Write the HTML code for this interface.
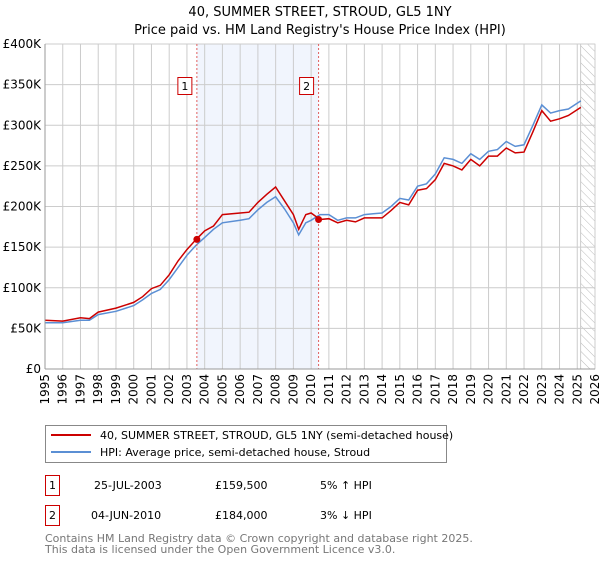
<!DOCTYPE html>
<html><head><meta charset="utf-8"><style>
body{margin:0;background:#fff;font-family:"Liberation Sans","DejaVu Sans",sans-serif}
svg text{font-family:"DejaVu Sans","Liberation Sans",sans-serif}
</style></head><body>
<svg id="chart" width="600" height="560" viewBox="0 0 600 560" xmlns="http://www.w3.org/2000/svg">
<defs><pattern id="hatch" width="6" height="6" patternUnits="userSpaceOnUse" patternTransform="rotate(-45)"><line x1="0" y1="0" x2="0" y2="6" stroke="#bbb" stroke-width="1"/></pattern></defs>
<text x="320" y="16" font-size="13" text-anchor="middle">40, SUMMER STREET, STROUD, GL5 1NY</text>
<text x="320" y="34" font-size="13" text-anchor="middle">Price paid vs. HM Land Registry's House Price Index (HPI)</text>
<g id="grid"></g>
<g id="marks"></g>
<g id="axes"></g>
<g>
<rect x="45.5" y="425.5" width="401" height="37" fill="#fff" stroke="#888"/>
<line x1="51" y1="435" x2="91" y2="435" stroke="#cc0000" stroke-width="2"/>
<text x="100" y="439" font-size="11">40, SUMMER STREET, STROUD, GL5 1NY (semi-detached house)</text>
<line x1="51" y1="452" x2="91" y2="452" stroke="#5b8fd4" stroke-width="2"/>
<text x="100" y="456" font-size="11">HPI: Average price, semi-detached house, Stroud</text>
</g>
<g font-size="11">
<rect x="45.5" y="475.5" width="14" height="20" fill="none" stroke="#cc0000"/>
<text x="52.5" y="489" text-anchor="middle">1</text>
<text x="94" y="489">25-JUL-2003</text><text x="215" y="489">£159,500</text><text x="320" y="489">5% ↑ HPI</text>
<rect x="45.5" y="505.5" width="14" height="20" fill="none" stroke="#cc0000"/>
<text x="52.5" y="519" text-anchor="middle">2</text>
<text x="91" y="519">04-JUN-2010</text><text x="215" y="519">£184,000</text><text x="320" y="519">3% ↓ HPI</text>
</g>
<text x="45" y="542" font-size="11" fill="#777">Contains HM Land Registry data © Crown copyright and database right 2025.</text>
<text x="45" y="553" font-size="11" fill="#777">This data is licensed under the Open Government Licence v3.0.</text>
</svg>
<script>
const hpiYears=[1995,1996,1997,1997.5,1998,1999,2000,2000.5,2001,2001.5,2002,2002.5,2003,2003.5,2004,2004.5,2005,2006,2006.5,2007,2007.5,2008,2008.5,2009,2009.3,2009.7,2010,2010.5,2011,2011.5,2012,2012.5,2013,2013.5,2014,2014.5,2015,2015.5,2016,2016.5,2017,2017.5,2018,2018.5,2019,2019.5,2020,2020.5,2021,2021.5,2022,2022.5,2023,2023.5,2024,2024.5,2025.2];
const hpiValues=[57,57,60,60,67,71,78,85,93,98,110,125,140,152,162,172,180,183,185,196,205,212,197,180,165,180,183,190,190,183,186,186,190,191,192,200,210,208,225,228,240,260,258,253,265,258,268,270,280,274,276,300,325,315,318,320,330];
const priceValues=[60,59,63,62,70,75,82,89,99,103,116,133,147,159,170,176,190,192,193,205,215,224,207,190,172,190,192,184,185,180,183,181,186,186,186,195,205,202,220,222,233,253,250,245,258,250,262,262,272,266,267,292,318,305,308,312,322];
const saleDates=[2003.56,2010.42];
const salePrices=[159.5,184];
const saleLabels=["1","2"];
const yTicks=[0,50,100,150,200,250,300,350,400];
const yTickLabels=["£0","£50K","£100K","£150K","£200K","£250K","£300K","£350K","£400K"];
const xTicks=[1995,1996,1997,1998,1999,2000,2001,2002,2003,2004,2005,2006,2007,2008,2009,2010,2011,2012,2013,2014,2015,2016,2017,2018,2019,2020,2021,2022,2023,2024,2025,2026];

const NS="http://www.w3.org/2000/svg";
const X0=45,X1=595,Y0=369,Y1=44;
const xs=v=>X0+(v-1995)/(2026-1995)*(X1-X0);
const ys=v=>Y0-(v/400)*(Y0-Y1);
function mk(tag,attrs,parent){const e=document.createElementNS(NS,tag);for(const k in attrs)e.setAttribute(k,attrs[k]);parent.appendChild(e);return e;}
const grid=document.getElementById('grid'),marks=document.getElementById('marks'),axes=document.getElementById('axes');
const sh=mk('rect',{x:xs(saleDates[0]),y:Y1,width:xs(saleDates[1])-xs(saleDates[0]),height:Y0-Y1,fill:'#eef3fc',opacity:0.8},grid);


const ht=mk('rect',{x:xs(2025.2),y:Y1,width:X1-xs(2025.2),height:Y0-Y1,fill:'url(#hatch)',stroke:'#999','stroke-width':0.5},grid);


yTicks.forEach((t,i)=>{
  mk('line',{x1:X0,x2:X1,y1:ys(t),y2:ys(t),stroke:'#ccc','stroke-width':1},grid);
  const tx=mk('text',{x:X0-4,y:ys(t)+4,'font-size':12,'text-anchor':'end'},axes);
  tx.textContent=yTickLabels[i];
  
  
});
xTicks.forEach(t=>{
  mk('line',{x1:xs(t),x2:xs(t),y1:Y1,y2:Y0,stroke:'#ccc','stroke-width':1},grid);
  const tx=mk('text',{x:0,y:0,'font-size':12,'text-anchor':'end',transform:`translate(${xs(t)+4},${Y0+5}) rotate(-90)`},axes);
  tx.textContent=t;
  
  
});
mk('line',{x1:X0,x2:X1,y1:Y0,y2:Y0,stroke:'#999'},axes);
mk('line',{x1:X0,x2:X0,y1:Y1,y2:Y0,stroke:'#999'},axes);
function line(vals,color,name){
  const d=vals.map((v,i)=>(i?'L':'M')+xs(hpiYears[i]).toFixed(1)+','+ys(v).toFixed(1)).join('');
  const p=mk('path',{d:d,fill:'none',stroke:color,'stroke-width':1.5},marks);
  
  
}
line(hpiValues,'#5b8fd4','hpi-line');
line(priceValues,'#cc0000','price-paid-line');
saleDates.forEach((d,i)=>{
  const vl=mk('line',{x1:xs(d),x2:xs(d),y1:Y1,y2:Y0,stroke:'#e06060','stroke-dasharray':'2,2','stroke-width':1},marks);
  
  
  const c=mk('circle',{cx:xs(d),cy:ys(salePrices[i]),r:3.5,fill:'#cc0000'},marks);
  
  
  const b=mk('rect',{x:xs(d)-19,y:77.5,width:14,height:17,fill:'#fff',stroke:'#cc0000'},marks);
  
  
  const t=mk('text',{x:xs(d)-12,y:90,'font-size':11,'text-anchor':'middle'},marks);
  t.textContent=saleLabels[i];
  
  
});
</script>
</body></html>
